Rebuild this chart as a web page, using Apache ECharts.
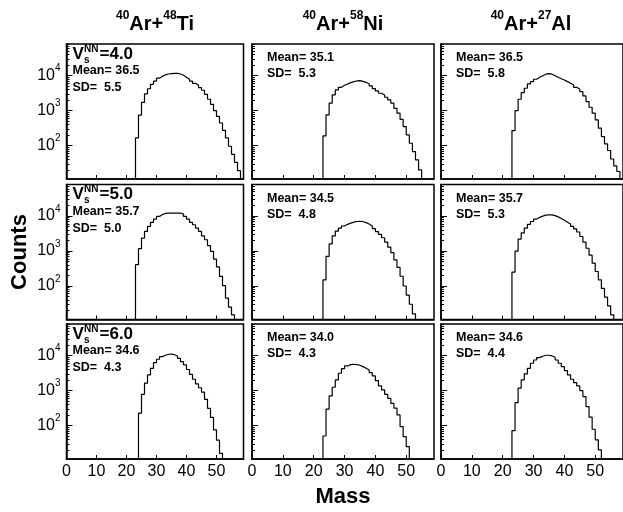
<!DOCTYPE html>
<html><head><meta charset="utf-8">
<script src="https://cdn.jsdelivr.net/npm/echarts@6/dist/echarts.min.js"></script>
<style>html,body{margin:0;padding:0;background:#fff}#c{width:623px;height:512px}</style>
</head><body><div id="c"></div>
<script>
// ---------------- data ----------------
const projMass = '40';
const projSym = 'Ar';
const targetMass = ['48', '58', '27'];
const targetSym = ['Ti', 'Ni', 'Al'];
const vnn = ['4.0', '5.0', '6.0'];
const means = [['36.5', '35.1', '36.5'], ['35.7', '34.5', '35.7'], ['34.6', '34.0', '34.6']];
const sds = [['5.5', '5.3', '5.8'], ['5.0', '4.8', '5.3'], ['4.3', '4.3', '4.4']];
const xTicks = [0, 10, 20, 30, 40, 50];
const yTicks = [100, 1000, 10000];
const xMin = 0, xMax = 59;
const yMin = 11, yMax = 80000;
// first mass bin (left edge) of each histogram, rows = V_s^NN, cols = reaction
const firstBin = [[23, 23, 23], [23, 23, 23], [24, 23, 23]];

const ti40 = [165, 740, 1700, 3000, 4200, 5600, 6900, 8400, 9500, 10500, 11100, 11400, 11600, 11600, 11100, 10200, 9000, 7900, 6900, 6000, 5300, 4500, 3800, 2900, 2100, 1500, 1000, 680, 440, 270, 165, 95, 56, 33, 19];
const ni40 = [188, 748, 1620, 2790, 3880, 4620, 5270, 5760, 6270, 6700, 7010, 7160, 6850, 6410, 5760, 5040, 4240, 3630, 3120, 2790, 2400, 2010, 1620, 1160, 840, 560, 347, 200, 116, 67, 39, 20];
const al40 = [267, 1000, 2100, 3240, 4340, 5760, 6700, 7840, 8930, 9930, 10950, 11350, 10950, 9930, 8930, 8130, 7480, 6700, 6030, 5380, 4620, 4060, 3470, 2610, 1800, 1240, 840, 540, 312, 180, 111, 72, 41, 26, 18];
const ti50 = [406, 1165, 2340, 3630, 5050, 6560, 8180, 9770, 11100, 11900, 12200, 12200, 12200, 12200, 12200, 11400, 9770, 8180, 6560, 5640, 4530, 3630, 2730, 2100, 1420, 980, 590, 350, 188, 102, 45, 25, 15];
const ni50 = [150, 700, 1600, 2700, 3700, 4500, 5200, 5800, 6300, 6700, 7000, 7100, 6900, 6500, 5900, 5200, 4400, 3600, 3000, 2400, 1800, 1300, 900, 560, 340, 190, 100, 55, 30, 16];
const al50 = [250, 1000, 2200, 3300, 4500, 5800, 7000, 8200, 9200, 10000, 10600, 10900, 10800, 10300, 9500, 8500, 7600, 6700, 5900, 5100, 4300, 3500, 2600, 1800, 1200, 760, 450, 260, 150, 85, 48, 27, 15];
const ti60 = [225, 780, 1620, 2790, 4330, 6270, 7840, 9310, 10200, 10900, 11100, 10600, 9750, 8350, 6700, 5400, 4000, 2900, 2100, 1550, 1200, 900, 560, 310, 170, 75, 38, 16];
const ni60 = [50, 292, 700, 1240, 2010, 3120, 4230, 5050, 5500, 5640, 5500, 5280, 4820, 4330, 3880, 3250, 2610, 1920, 1350, 1040, 780, 600, 430, 312, 200, 93, 48, 25];
const al60 = [71, 450, 1165, 2010, 2980, 4330, 6030, 7480, 8710, 9550, 10200, 10200, 9750, 8930, 7480, 6030, 4820, 3700, 2790, 2100, 1680, 1350, 990, 670, 347, 173, 78, 39, 20];
const counts = [[ti40, ni40, al40], [ti50, ni50, al50], [ti60, ni60, al60]];

// ---------------- layout ----------------
const FONT = "'Liberation Sans', Arial, Helvetica, sans-serif";
const colLeft = [66.5, 252, 441], colW = [177, 182, 184];
const rowTop = [44, 184.5, 324], rowH = 135;

const yMinor = [];
[10, 100, 1000, 10000].forEach(d => { for (let k = 2; k <= 9; k++) yMinor.push(k * d); });

function hist(start, c) {
  const pts = [[start, yMin]];
  c.forEach((v, i) => pts.push([start + i, v]));
  pts.push([start + c.length, yMin]);
  return pts;
}

const grid = [], xAxis = [], yAxis = [], series = [], elements = [];
for (let r = 0; r < 3; r++) {
  for (let c = 0; c < 3; c++) {
    const gi = r * 3 + c;
    grid.push({left: colLeft[c], top: rowTop[r], width: colW[c], height: rowH,
      show: true, borderColor: '#000', borderWidth: 1.5, backgroundColor: 'transparent'});
    xAxis.push({gridIndex: gi, type: 'value', min: xMin, max: xMax,
      axisLine: {show: true, onZero: false, lineStyle: {color: '#000', width: 1.5}},
      splitLine: {show: false},
      axisTick: {show: true, inside: true, length: 4, customValues: xTicks, lineStyle: {color: '#000', width: 1}},
      axisLabel: {show: r === 2, customValues: xTicks, fontSize: 16, color: '#000', margin: 5, fontFamily: FONT}});
    yAxis.push({gridIndex: gi, type: 'log', min: yMin, max: yMax, position: 'left',
      axisLine: {show: true, onZero: false, lineStyle: {color: '#000', width: 1.5}},
      splitLine: {show: false},
      axisTick: {show: true, inside: true, length: 6, customValues: yTicks, lineStyle: {color: '#000', width: 1}},
      axisLabel: {show: c === 0, customValues: yTicks, margin: 6,
        formatter: v => '{b|10}{s|' + Math.round(Math.log10(v)) + '}',
        rich: {b: {fontSize: 16, fontFamily: FONT, color: '#000', lineHeight: 24},
               s: {fontSize: 10, fontFamily: FONT, color: '#000', lineHeight: 10, verticalAlign: 'top'}}}});
    yAxis.push({gridIndex: gi, type: 'log', min: yMin, max: yMax, position: 'left',
      axisLine: {show: false}, splitLine: {show: false}, axisLabel: {show: false},
      axisTick: {show: true, inside: true, length: 3, customValues: yMinor, lineStyle: {color: '#000', width: 1}}});
    series.push({type: 'line', xAxisIndex: gi, yAxisIndex: gi * 2, step: 'end', symbol: 'none',
      clip: true, animation: false, silent: true,
      lineStyle: {color: '#000', width: 1.2},
      data: hist(firstBin[r][c], counts[r][c])});

    // annotations
    const L = colLeft[c], T = rowTop[r];
    const txt = (x, y, s, size, extra) => elements.push(Object.assign({type: 'text', x: x, y: y,
      style: {text: s, font: 'bold ' + size + 'px ' + FONT, fill: '#000', align: 'left', verticalAlign: 'middle'}}, extra || {}));
    if (c === 0) {
      const x0 = L + 6, yc = T + 10;
      txt(x0, yc, 'V', 17);
      txt(x0 + 11.5, yc - 5, 'NN', 10);
      txt(x0 + 11.5, yc + 6, 's', 10);
      txt(x0 + 27, yc, '=' + vnn[r], 17);
      txt(x0, T + 27, 'Mean= ' + means[r][c], 12.5);
      txt(x0, T + 44, 'SD=  ' + sds[r][c], 12.5);
    } else {
      txt(L + 15, T + 14, 'Mean= ' + means[r][c], 12.5);
      txt(L + 15, T + 30, 'SD=  ' + sds[r][c], 12.5);
    }
  }
}

// column titles
for (let c = 0; c < 3; c++) {
  elements.push({type: 'text', x: colLeft[c] + colW[c] / 2 - (c === 2 ? 2 : 0), y: 24,
    style: {text: '{s|' + projMass + '}{b|' + projSym + '+}{s|' + targetMass[c] + '}{b|' + targetSym[c] + '}',
      align: 'center', verticalAlign: 'middle',
      rich: {b: {fontSize: 20, fontWeight: 'bold', fontFamily: FONT, color: '#000', lineHeight: 29},
             s: {fontSize: 12, fontWeight: 'bold', fontFamily: FONT, color: '#000', lineHeight: 13, verticalAlign: 'top'}}}});
}
elements.push({type: 'text', x: 20, y: 252, rotation: Math.PI / 2,
  style: {text: 'Counts', font: 'bold 22px ' + FONT, fill: '#000', align: 'center', verticalAlign: 'middle'}});
elements.push({type: 'text', x: 343, y: 497,
  style: {text: 'Mass', font: 'bold 22px ' + FONT, fill: '#000', align: 'center', verticalAlign: 'middle'}});

const chart = echarts.init(document.getElementById('c'), null, {renderer: 'canvas'});
chart.setOption({animation: false, backgroundColor: '#fff', grid, xAxis, yAxis, series, graphic: {elements}});
</script></body></html>
